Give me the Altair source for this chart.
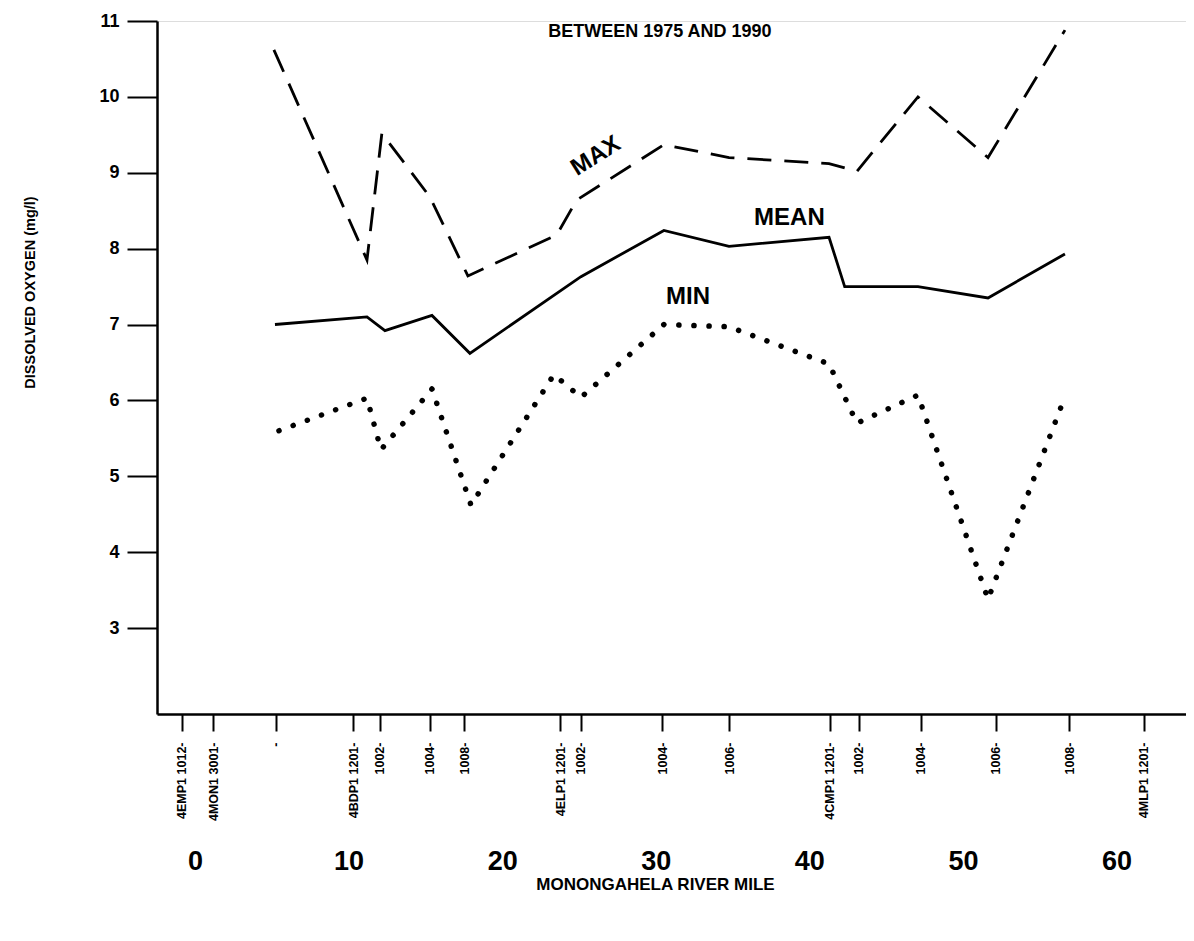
import altair as alt
import pandas as pd

# ---- data ----
station_miles = [-0.87, 1.19, 5.27, 10.31, 12.04, 15.3, 17.53, 23.78, 25.13,
                 30.43, 34.77, 41.33, 43.23, 47.25, 52.15, 56.93, 61.77]
station_labels = ["4EMP1 1012-", "4MON1 3001-", "-", "4BDP1 1201-", "1002-", "1004-",
                  "1008-", "4ELP1 1201-", "1002-", "1004-", "1006-", "4CMP1 1201-",
                  "1002-", "1004-", "1006-", "1008-", "4MLP1 1201-"]

max_miles = [5.14, 11.2, 12.17, 15.3, 17.77, 23.55, 24.85, 30.53, 34.77, 41.28, 43.1, 47.07, 51.63, 56.64]
max_vals = [10.62, 7.85, 9.52, 8.68, 7.64, 8.18, 8.64, 9.37, 9.2, 9.12, 9.02, 10.0, 9.2, 10.88]

mean_miles = [5.21, 11.2, 12.37, 15.43, 17.9, 25.13, 30.53, 34.77, 41.28, 42.3, 47.07, 51.63, 56.64]
mean_vals = [7.0, 7.1, 6.92, 7.12, 6.62, 7.63, 8.24, 8.03, 8.15, 7.5, 7.5, 7.35, 7.93]

min_miles = [5.47, 11.2, 12.11, 15.43, 17.97, 23.37, 25.13, 30.53, 34.77, 41.28, 43.1, 47.07, 51.63, 56.64]
min_vals = [5.6, 6.03, 5.35, 6.15, 4.62, 6.34, 6.04, 7.0, 6.97, 6.48, 5.7, 6.07, 3.38, 6.05]

mile_ticks = [0, 10, 20, 30, 40, 50, 60]
y_ticks = [3, 4, 5, 6, 7, 8, 9, 10, 11]

ann_labels = ["BETWEEN 1975 AND 1990", "MAX", "MEAN", "MIN"]
ann_miles = [30.27, 26.1, 38.7, 32.1]
ann_vals = [10.86, 9.22, 8.40, 7.36]
ann_angles = [0, 328, 0, 0]
ann_sizes = [18, 24, 24, 24]

# ---- build ----
FONT = "Liberation Sans"
xdomain = [-2.47, 64.52]
ydomain = [1.867, 11]

max_df = pd.DataFrame({"mile": max_miles, "do": max_vals})
mean_df = pd.DataFrame({"mile": mean_miles, "do": mean_vals})
min_df = pd.DataFrame({"mile": min_miles, "do": min_vals})
ann_df = pd.DataFrame({"label": ann_labels, "mile": ann_miles, "do": ann_vals,
                       "angle": ann_angles, "size": ann_sizes})

lab_expr = ("[" + ",".join("'" + s + "'" for s in station_labels) + "][indexof(["
            + ",".join(str(m) for m in station_miles) + "], datum.value)]")

xscale = alt.Scale(domain=xdomain, nice=False, zero=False)
yscale = alt.Scale(domain=ydomain, nice=False, zero=False)

station_axis = alt.Axis(
    values=station_miles, labelExpr=lab_expr, labelAngle=270, labelAlign="right",
    labelBaseline="middle", labelPadding=11, labelFontSize=12.5, labelFont=FONT,
    labelFontWeight="bold", labelColor="black", labelOverlap=False, labelFlush=False,
    labelBound=False, tickSize=17, tickWidth=2, tickColor="black", domainWidth=2.5,
    domainColor="black", grid=False, title=None)

y_axis = alt.Axis(
    values=y_ticks, tickSize=30, tickWidth=2, tickColor="black", domainWidth=2.5,
    domainColor="black", labelPadding=8, labelFontSize=18, labelFont=FONT,
    labelFontWeight="bold", labelColor="black", grid=False, labelOverlap=False,
    title="DISSOLVED OXYGEN (mg/l)", titleFont=FONT, titleFontSize=14.5,
    titleFontWeight="bold", titleColor="black", titleAngle=270, titleX=-127,
    titleY=271, titleAlign="center", titleBaseline="middle")

mile_axis = alt.Axis(
    orient="bottom", values=mile_ticks, format="d", domain=False, ticks=False,
    labelPadding=134, labelFontSize=27, labelFont=FONT, labelFontWeight="bold",
    labelColor="black", labelFlush=False, labelOverlap=False, grid=False,
    title="MONONGAHELA RIVER MILE", titleFont=FONT, titleFontSize=17,
    titleFontWeight="bold", titleColor="black", titleX=498, titleY=179,
    titleAlign="center", titleBaseline="bottom")

max_line = alt.Chart(max_df).mark_line(
    color="black", strokeWidth=2.8, strokeDash=[24, 13]
).encode(
    x=alt.X("mile:Q", scale=xscale, axis=station_axis),
    y=alt.Y("do:Q", scale=yscale, axis=y_axis),
)

mean_line = alt.Chart(mean_df).mark_line(color="black", strokeWidth=2.8).encode(
    x=alt.X("mile:Q", scale=xscale, axis=None),
    y=alt.Y("do:Q", scale=yscale, axis=None),
)

min_line = alt.Chart(min_df).mark_line(
    color="black", strokeWidth=5.5, strokeDash=[0.1, 15], strokeCap="round"
).encode(
    x=alt.X("mile:Q", scale=xscale, axis=None),
    y=alt.Y("do:Q", scale=yscale, axis=None),
)

ann = alt.Chart(ann_df).mark_text(
    font=FONT, fontWeight="bold", color="black", align="center", baseline="middle"
).encode(
    x=alt.X("mile:Q", scale=xscale, axis=mile_axis),
    y=alt.Y("do:Q", scale=yscale, axis=None),
    text="label:N",
    angle=alt.Angle("angle:Q", scale=None),
    size=alt.Size("size:Q", scale=None, legend=None),
)

chart = alt.layer(max_line, mean_line, min_line, ann).resolve_axis(
    x="independent", y="independent"
).properties(
    width=1029, height=693,
    autosize=alt.AutoSizeParams(type="none"),
    padding={"left": 149, "top": 13, "right": 0, "bottom": 219},
).configure_view(stroke=None).configure(background="white")

chart.save("out.html", embed_options={"renderer": "svg", "actions": False})
